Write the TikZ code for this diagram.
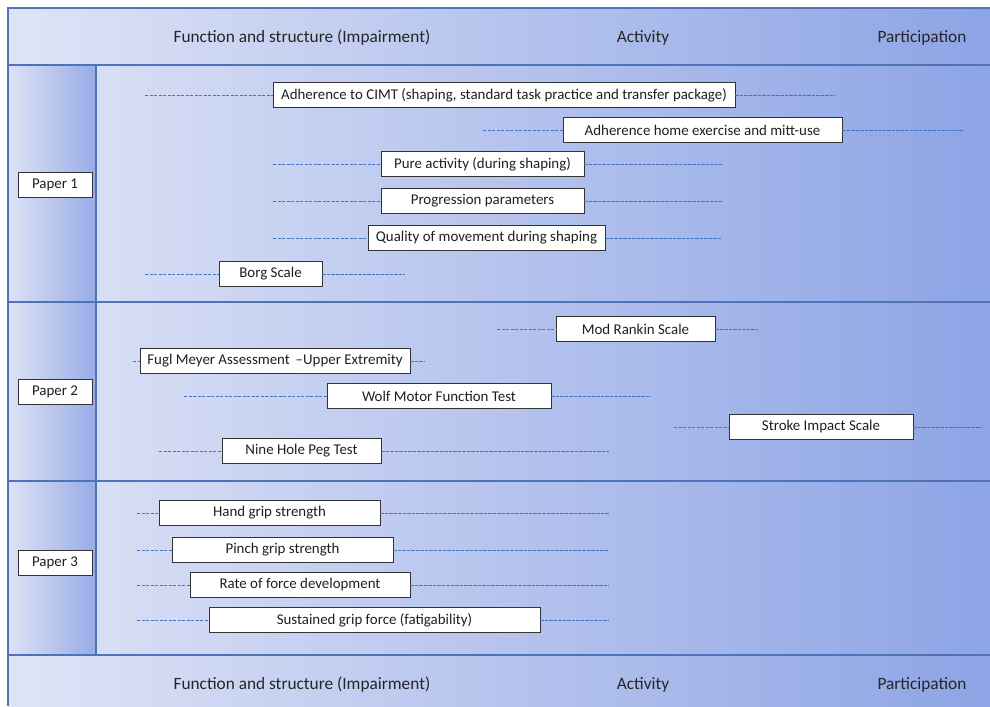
\documentclass[tikz,border=0pt]{standalone}
\usepackage{fontspec}
\setmainfont{Carlito}
\usepackage{tikz}
\definecolor{frm}{HTML}{4F73B8}
\definecolor{dsh}{HTML}{4472C4}
\definecolor{bgl}{HTML}{DFE4F6}
\definecolor{bgm}{HTML}{BFCAEF}
\definecolor{bgr}{HTML}{8DA4E5}
\definecolor{coll}{HTML}{DDE3F5}
\definecolor{colr}{HTML}{97ABE6}
\tikzset{
  box/.style={draw=black!80,fill=white,minimum height=0.64cm,inner sep=1pt,font=\fontsize{10.6}{12}\selectfont,text=black!88,line width=0.6pt},
  pap/.style={box,minimum width=1.85cm},
  hd/.style={font=\fontsize{12.3}{14}\selectfont,text=black!85},
  dl/.style={draw=dsh,dashed,dash pattern=on 2.2pt off 1pt,line width=0.5pt},
  sep/.style={draw=frm,line width=0.8pt},
}
% #1 name, #2 left x, #3 right x, #4 y, #5 dash start, #6 dash end, #7 text
\newcommand{\meas}[7]{%
  \node[box,minimum width={(#3-#2)*0.025cm}] (#1) at ({(#2+#3)/2},#4) {#7};
  \coordinate (#1l) at (#5,#4); \coordinate (#1r) at (#6,#4);
  \draw[dl] (#1l) -- (#1.west); \draw[dl] (#1.east) -- (#1r);}
\begin{document}
\begin{tikzpicture}[x=0.025cm,y=-0.025cm]
\useasboundingbox (0,0) rectangle (990,706);
% background
\shade[left color=bgl,middle color=bgm,right color=bgr] (8,8) rectangle (990,706);
\shade[left color=coll,right color=colr] (8,65) rectangle (96,655);
\draw[sep] (990,8) -- (8,8) -- (8,706);
\draw[sep] (8,65) -- (990,65); \draw[sep] (8,302) -- (990,302);
\draw[sep] (8,481) -- (990,481); \draw[sep] (8,655) -- (990,655);
\draw[sep] (96,65) -- (96,655);
% headings
\node[hd] (fs) at (302,38) {Function and structure (Impairment)};
\node[hd] (ac) at (643,38) {Activity};
\node[hd] (pa) at (922,38) {Participation};
\node[hd] (fsb) at (302,685) {Function and structure (Impairment)};
\node[hd] (acb) at (643,685) {Activity};
\node[hd] (pab) at (922,685) {Participation};
% papers
\node[pap] (p1) at (55,185) {Paper 1};
\node[pap] (p2) at (55,392) {Paper 2};
\node[pap] (p3) at (55,563) {Paper 3};
% paper 1
\meas{cimt}{273}{735}{95}{145}{835}{Adherence to CIMT (shaping, standard task practice and transfer package)}
\meas{home}{563}{842}{130}{483}{963}{Adherence home exercise and mitt-use}
\meas{pure}{381}{584}{164}{273}{722}{Pure activity (during shaping)}
\meas{prog}{381}{584}{201}{273}{722}{Progression parameters}
\meas{qual}{368}{605}{238}{273}{722}{Quality of movement during shaping}
\meas{borg}{219}{322}{274}{145}{405}{Borg Scale}
% paper 2
\meas{mrs}{556}{715}{329}{497}{758}{Mod Rankin Scale}
\meas{fma}{140}{410}{361}{133}{424}{Fugl Meyer Assessment \,--Upper Extremity}
\meas{wmft}{327}{551}{396}{184}{651}{Wolf Motor Function Test}
\meas{sis}{729}{913}{427}{674}{982}{Stroke Impact Scale}
\meas{nhpt}{222}{381}{451}{159}{609}{Nine Hole Peg Test}
% paper 3
\meas{hand}{159}{380}{513}{137}{609}{Hand grip strength}
\meas{pinch}{172}{393}{550}{137}{609}{Pinch grip strength}
\meas{rfd}{190}{410}{585}{137}{609}{Rate of force development}
\meas{sgf}{209}{540}{620}{137}{609}{Sustained grip force (fatigability)}
\end{tikzpicture}
\end{document}
